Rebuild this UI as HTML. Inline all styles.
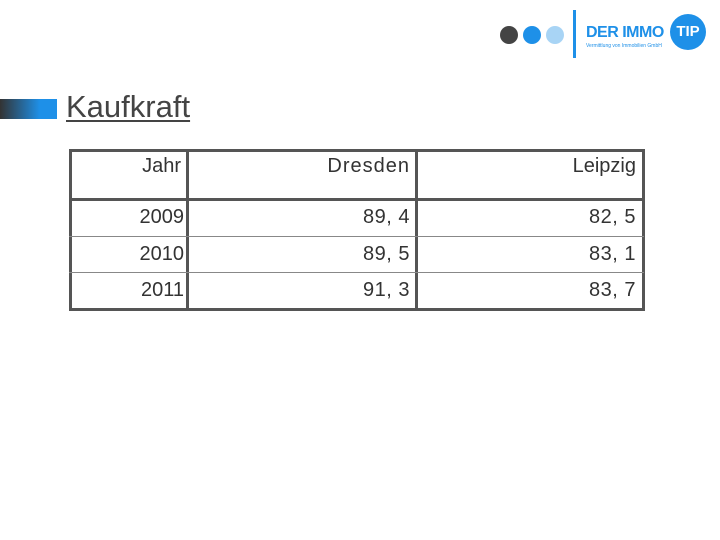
<!DOCTYPE html>
<html><head><meta charset="utf-8"><style>
body{margin:0;width:720px;height:540px;background:#fff;position:relative;overflow:hidden;font-family:"Liberation Sans",sans-serif;color:#333}
.a{position:absolute}
.t{position:absolute;font-size:20px;color:#333;text-align:right}
.hl{position:absolute;left:69px;width:575px;background:#888;height:1px}
</style></head><body>
<div class="a" style="left:500px;top:10px;width:210px;height:50px">
 <div class="a" style="left:0;top:16px;width:18px;height:18px;border-radius:50%;background:#444"></div>
 <div class="a" style="left:23px;top:16px;width:18px;height:18px;border-radius:50%;background:#1e90e8"></div>
 <div class="a" style="left:46px;top:16px;width:18px;height:18px;border-radius:50%;background:#a8d4f5"></div>
 <div class="a" style="left:73px;top:0;width:3px;height:48px;background:#1e90e8"></div>
 <div class="a" style="left:86px;top:14px;font-size:16px;font-weight:bold;color:#1e90e8;letter-spacing:-0.5px">DER IMMO</div>
 <div class="a" style="left:86px;top:33px;font-size:5px;color:#1e90e8">Vermittlung von Immobilien GmbH</div>
 <div class="a" style="left:170px;top:4px;width:36px;height:36px;border-radius:50%;background:#1e90e8;color:#fff;font-weight:bold;font-size:15px;text-align:center;line-height:36px">TIP</div>
</div>
<div class="a" style="left:0;top:99px;width:57px;height:20px;background:linear-gradient(90deg,#333,#1e90e8 70%)"></div>
<div class="a" style="left:66px;top:89px;font-size:31px;color:#444;text-decoration:underline;text-decoration-thickness:2px;text-underline-offset:3px">Kaufkraft</div>
<div class="a" style="left:69px;top:149px;width:570px;height:156px;border:3px solid #555"></div>
<div class="a" style="left:186px;top:149px;width:3px;height:162px;background:#555"></div>
<div class="a" style="left:415px;top:149px;width:3px;height:162px;background:#555"></div>
<div class="a" style="left:69px;top:198px;width:575px;height:3px;background:#555"></div>
<div class="hl" style="top:236px"></div>
<div class="hl" style="top:272px"></div>
<div class="t" style="left:90px;width:91px;top:155px">Jahr</div>
<div class="t" style="left:250px;width:160px;top:155px;letter-spacing:1px">Dresden</div>
<div class="t" style="left:480px;width:156px;top:155px">Leipzig</div>
<div class="t" style="left:90px;width:94px;top:206px">2009</div>
<div class="t" style="left:250px;width:160px;top:206px;letter-spacing:0.5px">89, 4</div>
<div class="t" style="left:480px;width:156px;top:206px;letter-spacing:0.5px">82, 5</div>
<div class="t" style="left:90px;width:94px;top:243px">2010</div>
<div class="t" style="left:250px;width:160px;top:243px;letter-spacing:0.5px">89, 5</div>
<div class="t" style="left:480px;width:156px;top:243px;letter-spacing:0.5px">83, 1</div>
<div class="t" style="left:90px;width:94px;top:279px">2011</div>
<div class="t" style="left:250px;width:160px;top:279px;letter-spacing:0.5px">91, 3</div>
<div class="t" style="left:480px;width:156px;top:279px;letter-spacing:0.5px">83, 7</div>
</body></html>
